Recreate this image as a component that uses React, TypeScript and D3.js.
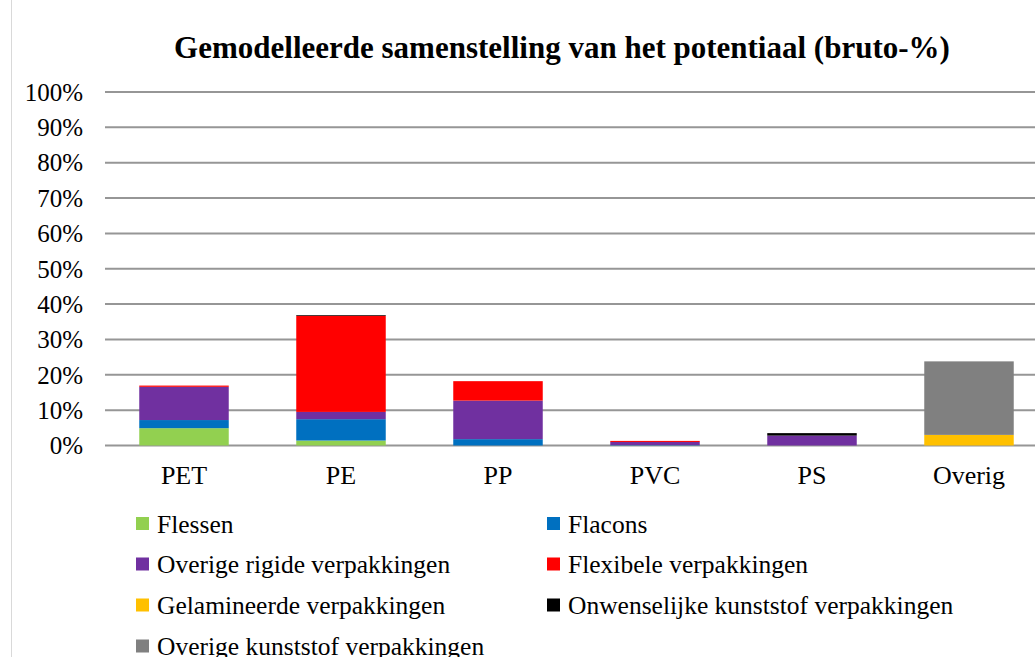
import React from "react";
import * as d3 from "d3";

const categories = ["PET", "PE", "PP", "PVC", "PS", "Overig"];
const seriesNames = [
  "Flessen",
  "Flacons",
  "Overige rigide verpakkingen",
  "Flexibele verpakkingen",
  "Gelamineerde verpakkingen",
  "Onwenselijke kunststof verpakkingen",
  "Overige kunststof verpakkingen",
];
const seriesColors = ["#92D050", "#0070C0", "#7030A0", "#FF0000", "#FFC000", "#000000", "#808080"];
const flessen = [0.049, 0.014, 0, 0, 0, 0];
const flacons = [0.023, 0.0605, 0.018, 0.001, 0, 0];
const overigeRigide = [0.094, 0.0205, 0.109, 0.009, 0.028, 0];
const flexibele = [0.0035, 0.272, 0.055, 0.003, 0, 0];
const gelamineerde = [0, 0, 0, 0, 0, 0.03];
const onwenselijke = [0, 0.002, 0, 0, 0.007, 0];
const overigeKunststof = [0, 0, 0, 0, 0, 0.208];
const seriesValues = [flessen, flacons, overigeRigide, flexibele, gelamineerde, onwenselijke, overigeKunststof];
const yTicks = [0, 0.1, 0.2, 0.3, 0.4, 0.5, 0.6, 0.7, 0.8, 0.9, 1.0];
const title = "Gemodelleerde samenstelling van het potentiaal (bruto-%)";

const FONT = "'Liberation Serif', 'DejaVu Serif', serif";

export default function App() {
  const W = 1035, H = 657;
  const x = d3.scaleBand<string>().domain(categories).range([105.5, 1047.5]).paddingInner(0.43).paddingOuter(0.215);
  const y = d3.scaleLinear().domain([0, 1]).range([445.5, 92]);
  const keys = seriesNames;
  const table = categories.map((c, i) => {
    const row: any = { cat: c };
    keys.forEach((k, s) => (row[k] = seriesValues[s][i]));
    return row;
  });
  const stacked = d3.stack<any>().keys(keys)(table);
  const legendPos = seriesNames.map((_, i) => ({
    col: i % 2,
    row: Math.floor(i / 2),
  }));
  const rowY = [524, 564.5, 605.5, 646.5];
  const colX = [136, 547];

  return (
    <svg width={W} height={H} style={{ position: "absolute", left: 0, top: 0, background: "#fff" }}>
      <rect x={0} y={0} width={W} height={H} fill="#fff" />
      <line x1={11.5} x2={11.5} y1={0} y2={H} stroke="#d9d9d9" strokeWidth={1} />
      <text x={562} y={58} textAnchor="middle" fontFamily={FONT} fontWeight="bold" fontSize={31} fill="#000">
        {title}
      </text>
      {yTicks.map((t) => (
        <g key={t}>
          <line x1={105} x2={W} y1={y(t)} y2={y(t)} stroke="#969696" strokeWidth={2} />
          <text x={83} y={y(t)} dy="0.35em" textAnchor="end" fontFamily={FONT} fontSize={25} fill="#000">
            {d3.format(".0%")(t)}
          </text>
        </g>
      ))}
      {stacked.map((layer, s) => (
        <g key={layer.key} fill={seriesColors[s]}>
          {layer.map((d, i) =>
            d[1] - d[0] > 0 ? (
              <rect
                key={i}
                x={x(categories[i])}
                width={x.bandwidth()}
                y={y(d[1])}
                height={y(d[0]) - y(d[1])}
              />
            ) : null
          )}
        </g>
      ))}
      {categories.map((c) => (
        <text key={c} x={(x(c) as number) + x.bandwidth() / 2} y={484} textAnchor="middle" fontFamily={FONT} fontSize={26} fill="#000">
          {c}
        </text>
      ))}
      {seriesNames.map((n, i) => {
        const p = legendPos[i];
        const cy = rowY[p.row];
        return (
          <g key={n}>
            <rect x={colX[p.col]} y={cy - 7} width={13} height={13} fill={seriesColors[i]} />
            <text x={colX[p.col] + 21} y={cy} dy="0.35em" fontFamily={FONT} fontSize={25.5} fill="#000">
              {n}
            </text>
          </g>
        );
      })}
    </svg>
  );
}
